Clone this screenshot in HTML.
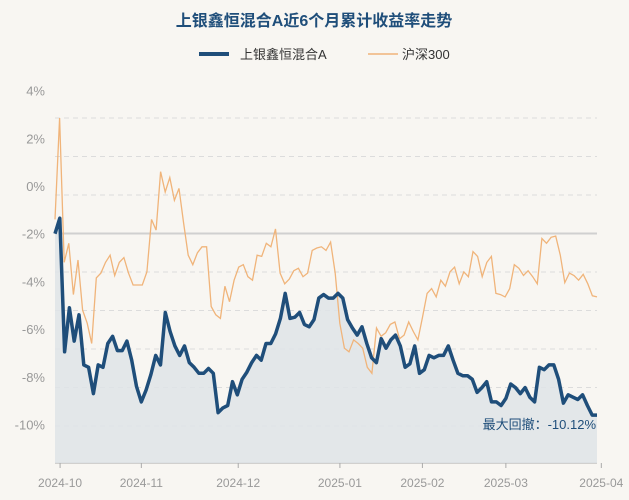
<!DOCTYPE html>
<html><head><meta charset="utf-8"><style>
body{margin:0;background:#f8f6f2;}
svg{display:block;font-family:"Liberation Sans","Noto Sans CJK SC",sans-serif;}
</style></head><body>
<svg id="chart" width="629" height="500">
<rect width="629" height="500" fill="#f8f6f2"/>
<text x="314" y="26" text-anchor="middle" font-size="16" font-weight="bold" fill="#1f4e7a">上银鑫恒混合A近6个月累计收益率走势</text>
<g>
<g><line x1="199" y1="54" x2="229" y2="54" stroke="#1f4e7a" stroke-width="4"/><text x="240" y="59" font-size="13" fill="#333">上银鑫恒混合A</text></g>
<g><line x1="368" y1="54" x2="398" y2="54" stroke="#f0b47a" stroke-width="1.5"/><text x="402" y="59" font-size="13" fill="#333">沪深300</text></g>
</g>
<g id="grid"></g>
<g id="yax"></g>
<g id="xax"></g>
<g id="series"></g>
<text x="596" y="429" text-anchor="end" font-size="13" fill="#1f4e7a">最大回撤：-10.12%</text>
</svg>
<script>
const yTicks=[4,2,0,-2,-4,-6,-8,-10];
const xTickLabels=["2024-10","2024-11","2024-12","2025-01","2025-02","2025-03","2025-04"];
const xTickIdx=[1.06,18,38.2,59.4,76.6,94,113.9];
const fund=[-2.0,-1.35,-6.95,-5.1,-6.5,-5.4,-7.5,-7.6,-8.7,-7.5,-7.6,-6.6,-6.3,-6.9,-6.9,-6.5,-7.3,-8.4,-9.05,-8.55,-7.9,-7.1,-7.5,-5.3,-6.1,-6.7,-7.1,-6.7,-7.4,-7.6,-7.85,-7.85,-7.65,-7.85,-9.5,-9.3,-9.2,-8.2,-8.75,-8.1,-7.8,-7.4,-7.1,-7.3,-6.6,-6.6,-6.2,-5.55,-4.5,-5.55,-5.5,-5.3,-5.8,-5.9,-5.6,-4.7,-4.55,-4.7,-4.7,-4.5,-4.7,-5.6,-5.95,-6.25,-5.9,-6.6,-7.2,-7.4,-6.4,-6.8,-6.45,-6.25,-6.7,-7.6,-7.45,-6.7,-7.85,-7.7,-7.1,-7.2,-7.1,-7.1,-6.7,-7.3,-7.85,-7.95,-7.95,-8.1,-8.65,-8.45,-8.2,-9.05,-9.05,-9.2,-8.9,-8.3,-8.45,-8.7,-8.45,-8.85,-9.05,-7.6,-7.7,-7.5,-7.5,-8.1,-9.1,-8.75,-8.85,-8.95,-8.75,-9.2,-9.6,-9.6];
const hs300=[-1.4,2.85,-3.2,-2.4,-4.55,-3.1,-5.2,-5.75,-6.6,-3.85,-3.65,-3.2,-2.9,-3.75,-3.2,-3.0,-3.65,-4.15,-4.15,-4.15,-3.6,-1.4,-1.85,0.6,-0.25,0.35,-0.6,-0.1,-1.55,-2.9,-3.3,-2.8,-2.55,-2.55,-5.05,-5.4,-5.55,-4.2,-4.85,-3.95,-3.4,-3.3,-3.8,-3.95,-2.9,-2.95,-2.4,-2.55,-1.8,-3.65,-4.1,-3.9,-3.55,-3.45,-3.8,-3.65,-2.7,-2.6,-2.55,-2.7,-2.35,-3.65,-5.75,-6.8,-6.95,-6.45,-6.6,-6.8,-7.6,-7.85,-5.95,-6.3,-6.15,-5.8,-5.7,-6.4,-6.25,-5.7,-6.1,-6.45,-5.5,-4.5,-4.3,-4.65,-3.95,-4.2,-3.6,-3.4,-4.1,-3.6,-3.8,-2.75,-2.95,-3.8,-3.2,-2.95,-4.5,-4.55,-4.65,-4.3,-3.3,-3.45,-3.75,-3.55,-3.8,-4.1,-2.2,-2.4,-2.15,-2.1,-2.9,-4.05,-3.65,-3.75,-3.95,-3.7,-4.1,-4.6,-4.65];
const NS='http://www.w3.org/2000/svg';
const X0=55,X1=597,BOT=463;
function yS(v){return 186-v*23.86;}
function xS(i,n){return X0+(X1-X0)*i/(n-1);}
function mk(t,a,p){const e=document.createElementNS(NS,t);for(const k in a)e.setAttribute(k,a[k]);(p||document.getElementById('chart')).appendChild(e);return e;}
const grid=document.getElementById('grid');
for(let k=0;k<9;k++){
  const y=118+k*38.5;
  const l=mk('line',{x1:X0,x2:X1,y1:y,y2:y,stroke:k===3?'#d0d0d0':'#dcdcdc','stroke-width':k===3?2:1,'stroke-dasharray':k===3?'':'5,4'},grid);
  
  
}
const yax=document.getElementById('yax');
yTicks.forEach(v=>{
  const t=mk('text',{x:45,y:yS(v)+5,'text-anchor':'end','font-size':13,fill:'#999'},yax);
  t.textContent=v+'%';
  
  
});
const xax=document.getElementById('xax');
mk('line',{x1:X0,x2:X1,y1:BOT,y2:BOT,stroke:'#aaa'},xax);
xTickLabels.forEach((s,i)=>{
  const x=xS(xTickIdx[i],fund.length);
  mk('line',{x1:x,x2:x,y1:BOT,y2:BOT+5,stroke:'#aaa'},xax);
  const t=mk('text',{x:x,y:487,'text-anchor':'middle','font-size':12,fill:'#999'},xax);
  t.textContent=s;
  
  
});
const ser=document.getElementById('series');
let fp=fund.map((v,i)=>xS(i,fund.length).toFixed(1)+','+yS(v).toFixed(1));
const area=mk('path',{d:'M'+xS(0,fund.length)+','+BOT+' L'+fp.join(' L')+' L'+X1+','+BOT+' Z',fill:'#dfe4e8','fill-opacity':0.85},ser);


const hp=hs300.map((v,i)=>xS(i,hs300.length).toFixed(1)+','+yS(v).toFixed(1));
const hl=mk('polyline',{points:hp.join(' '),fill:'none',stroke:'#f0b47a','stroke-width':1.3},ser);


const fl=mk('polyline',{points:fp.join(' '),fill:'none',stroke:'#1f4e7a','stroke-width':3.5,'stroke-linejoin':'round'},ser);


</script>
</body></html>
